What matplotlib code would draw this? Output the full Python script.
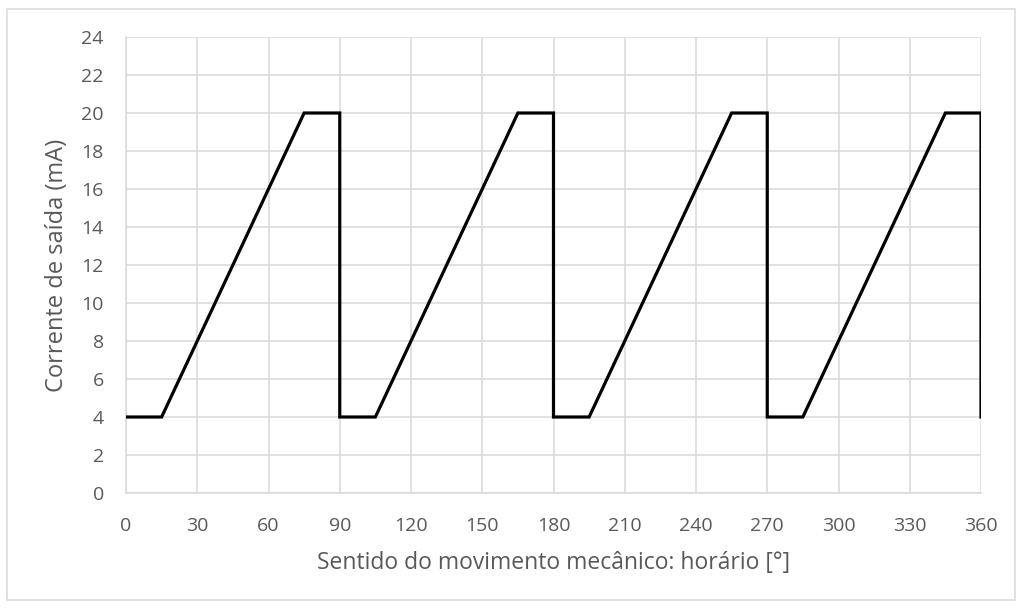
import matplotlib.pyplot as plt
from matplotlib.patches import Rectangle

# ângulo (graus) e corrente de saída (mA)
angulo = [0, 15, 75, 90, 90, 105, 165, 180, 180, 195, 255, 270, 270, 285, 345, 360, 360]
corrente = [4, 4, 20, 20, 4, 4, 20, 20, 4, 4, 20, 20, 4, 4, 20, 20, 4]

x_ticks = list(range(0, 361, 30))
y_ticks = list(range(0, 25, 2))

plt.rcParams['font.family'] = ['Open Sans', 'DejaVu Sans']
texto = '#595959'
grade = '#d9d9d9'

fig = plt.figure(figsize=(10.22, 6.08), dpi=100)
ax = fig.add_axes([126 / 1022, 1 - 493 / 608, (981 - 126) / 1022, (493 - 37) / 608])

ax.plot(angulo, corrente, color='black', linewidth=2.3, solid_joinstyle='miter', zorder=3)

ax.set_xlim(0, 360)
ax.set_ylim(0, 24)
ax.set_xticks(x_ticks)
ax.set_yticks(y_ticks)
ax.grid(True, color=grade, linewidth=1.1)
ax.tick_params(length=0, labelsize=14, colors=texto)
ax.tick_params(axis='x', pad=17)
ax.tick_params(axis='y', pad=16)
for lado in ['top', 'right']:
    ax.spines[lado].set_visible(False)
for lado in ['left', 'bottom']:
    ax.spines[lado].set_color(grade)
    ax.spines[lado].set_linewidth(1.1)

ax.set_xlabel('Sentido do movimento mecânico: horário [°]', fontsize=16.5, color=texto, labelpad=12)
ax.set_ylabel('Corrente de saída (mA)', fontsize=17, color=texto, labelpad=9)

# moldura do gráfico
fig.patches.append(Rectangle((7 / 1022, 1 - 600 / 608), 1008 / 1022, 591 / 608,
                             transform=fig.transFigure, fill=False, edgecolor=grade, linewidth=1.1))

fig.savefig('out.png', dpi=100)
